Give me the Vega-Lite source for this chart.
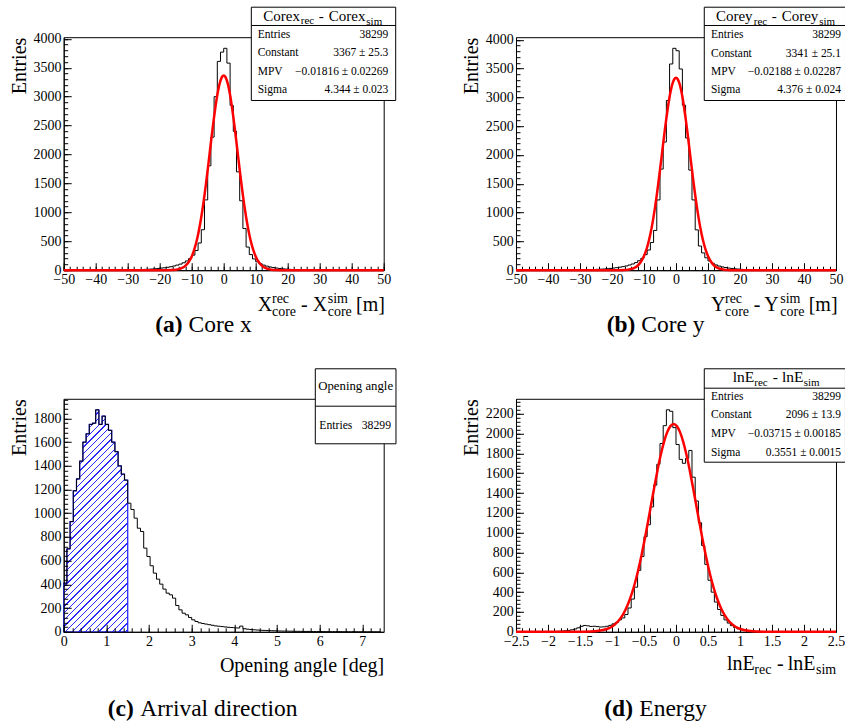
{
"$schema": "https://vega.github.io/schema/vega-lite/v6.json",
"autosize": {"type": "pad"},
"padding": {"left": 8.7, "top": 5.2, "right": 0, "bottom": 0},
"background": "white",
"columns": 2,
"bounds": "flush",
"spacing": {"row": 128.6, "column": 132.3},
"datasets": {
"ha": [{"lo":-50,"n":1},{"lo":-49,"n":0},{"lo":-48,"n":1},{"lo":-47,"n":0},{"lo":-46,"n":1},{"lo":-45,"n":1},{"lo":-44,"n":0},{"lo":-43,"n":1},{"lo":-42,"n":2},{"lo":-41,"n":1},{"lo":-40,"n":1},{"lo":-39,"n":2},{"lo":-38,"n":2},{"lo":-37,"n":3},{"lo":-36,"n":2},{"lo":-35,"n":3},{"lo":-34,"n":3},{"lo":-33,"n":4},{"lo":-32,"n":4},{"lo":-31,"n":5},{"lo":-30,"n":5},{"lo":-29,"n":6},{"lo":-28,"n":8},{"lo":-27,"n":9},{"lo":-26,"n":12},{"lo":-25,"n":14},{"lo":-24,"n":17},{"lo":-23,"n":20},{"lo":-22,"n":25},{"lo":-21,"n":30},{"lo":-20,"n":36},{"lo":-19,"n":42},{"lo":-18,"n":50},{"lo":-17,"n":60},{"lo":-16,"n":72},{"lo":-15,"n":88},{"lo":-14,"n":105},{"lo":-13,"n":128},{"lo":-12,"n":160},{"lo":-11,"n":200},{"lo":-10,"n":260},{"lo":-9,"n":340},{"lo":-8,"n":470},{"lo":-7,"n":700},{"lo":-6,"n":1215},{"lo":-5,"n":1805},{"lo":-4,"n":2300},{"lo":-3,"n":3000},{"lo":-2,"n":3610},{"lo":-1,"n":3770},{"lo":0,"n":3836},{"lo":1,"n":3580},{"lo":2,"n":2850},{"lo":3,"n":2400},{"lo":4,"n":1700},{"lo":5,"n":1200},{"lo":6,"n":720},{"lo":7,"n":400},{"lo":8,"n":270},{"lo":9,"n":195},{"lo":10,"n":145},{"lo":11,"n":112},{"lo":12,"n":88},{"lo":13,"n":70},{"lo":14,"n":56},{"lo":15,"n":45},{"lo":16,"n":37},{"lo":17,"n":30},{"lo":18,"n":24},{"lo":19,"n":19},{"lo":20,"n":15},{"lo":21,"n":12},{"lo":22,"n":10},{"lo":23,"n":8},{"lo":24,"n":7},{"lo":25,"n":6},{"lo":26,"n":5},{"lo":27,"n":4},{"lo":28,"n":4},{"lo":29,"n":3},{"lo":30,"n":3},{"lo":31,"n":2},{"lo":32,"n":2},{"lo":33,"n":2},{"lo":34,"n":1},{"lo":35,"n":2},{"lo":36,"n":1},{"lo":37,"n":1},{"lo":38,"n":1},{"lo":39,"n":0},{"lo":40,"n":1},{"lo":41,"n":1},{"lo":42,"n":0},{"lo":43,"n":1},{"lo":44,"n":0},{"lo":45,"n":0},{"lo":46,"n":1},{"lo":47,"n":0},{"lo":48,"n":0},{"lo":49,"n":0}],
"hb": [{"lo":-50,"n":0},{"lo":-49,"n":1},{"lo":-48,"n":0},{"lo":-47,"n":1},{"lo":-46,"n":1},{"lo":-45,"n":0},{"lo":-44,"n":1},{"lo":-43,"n":1},{"lo":-42,"n":2},{"lo":-41,"n":1},{"lo":-40,"n":2},{"lo":-39,"n":1},{"lo":-38,"n":2},{"lo":-37,"n":3},{"lo":-36,"n":2},{"lo":-35,"n":3},{"lo":-34,"n":4},{"lo":-33,"n":3},{"lo":-32,"n":4},{"lo":-31,"n":5},{"lo":-30,"n":6},{"lo":-29,"n":7},{"lo":-28,"n":8},{"lo":-27,"n":10},{"lo":-26,"n":12},{"lo":-25,"n":15},{"lo":-24,"n":18},{"lo":-23,"n":21},{"lo":-22,"n":26},{"lo":-21,"n":31},{"lo":-20,"n":37},{"lo":-19,"n":44},{"lo":-18,"n":52},{"lo":-17,"n":62},{"lo":-16,"n":74},{"lo":-15,"n":90},{"lo":-14,"n":108},{"lo":-13,"n":132},{"lo":-12,"n":165},{"lo":-11,"n":205},{"lo":-10,"n":270},{"lo":-9,"n":350},{"lo":-8,"n":480},{"lo":-7,"n":690},{"lo":-6,"n":1220},{"lo":-5,"n":1755},{"lo":-4,"n":2225},{"lo":-3,"n":2946},{"lo":-2,"n":3580},{"lo":-1,"n":3852},{"lo":0,"n":3810},{"lo":1,"n":3493},{"lo":2,"n":2865},{"lo":3,"n":2295},{"lo":4,"n":1738},{"lo":5,"n":1220},{"lo":6,"n":700},{"lo":7,"n":420},{"lo":8,"n":300},{"lo":9,"n":215},{"lo":10,"n":160},{"lo":11,"n":120},{"lo":12,"n":92},{"lo":13,"n":72},{"lo":14,"n":57},{"lo":15,"n":46},{"lo":16,"n":37},{"lo":17,"n":30},{"lo":18,"n":24},{"lo":19,"n":19},{"lo":20,"n":15},{"lo":21,"n":12},{"lo":22,"n":10},{"lo":23,"n":8},{"lo":24,"n":7},{"lo":25,"n":6},{"lo":26,"n":5},{"lo":27,"n":4},{"lo":28,"n":4},{"lo":29,"n":3},{"lo":30,"n":3},{"lo":31,"n":2},{"lo":32,"n":2},{"lo":33,"n":2},{"lo":34,"n":1},{"lo":35,"n":2},{"lo":36,"n":1},{"lo":37,"n":1},{"lo":38,"n":1},{"lo":39,"n":0},{"lo":40,"n":1},{"lo":41,"n":1},{"lo":42,"n":0},{"lo":43,"n":1},{"lo":44,"n":0},{"lo":45,"n":0},{"lo":46,"n":1},{"lo":47,"n":0},{"lo":48,"n":0},{"lo":49,"n":0}],
"hc": [{"lo":0,"n":410},{"lo":0.075,"n":700},{"lo":0.15,"n":930},{"lo":0.225,"n":1190},{"lo":0.3,"n":1290},{"lo":0.375,"n":1440},{"lo":0.45,"n":1600},{"lo":0.525,"n":1670},{"lo":0.6,"n":1750},{"lo":0.675,"n":1760},{"lo":0.75,"n":1873},{"lo":0.825,"n":1750},{"lo":0.9,"n":1820},{"lo":0.975,"n":1750},{"lo":1.05,"n":1700},{"lo":1.125,"n":1600},{"lo":1.2,"n":1520},{"lo":1.275,"n":1400},{"lo":1.35,"n":1330},{"lo":1.425,"n":1280},{"lo":1.5,"n":1085},{"lo":1.575,"n":1032},{"lo":1.65,"n":959},{"lo":1.725,"n":874},{"lo":1.8,"n":846},{"lo":1.875,"n":706},{"lo":1.95,"n":635},{"lo":2.025,"n":557},{"lo":2.1,"n":495},{"lo":2.175,"n":444},{"lo":2.25,"n":402},{"lo":2.325,"n":360},{"lo":2.4,"n":326},{"lo":2.475,"n":312},{"lo":2.55,"n":284},{"lo":2.625,"n":222},{"lo":2.7,"n":185},{"lo":2.775,"n":157},{"lo":2.85,"n":143},{"lo":2.925,"n":121},{"lo":3,"n":101},{"lo":3.075,"n":87},{"lo":3.15,"n":76},{"lo":3.225,"n":70},{"lo":3.3,"n":65},{"lo":3.375,"n":60},{"lo":3.45,"n":55},{"lo":3.525,"n":50},{"lo":3.6,"n":47},{"lo":3.675,"n":44},{"lo":3.75,"n":41},{"lo":3.825,"n":38},{"lo":3.9,"n":36},{"lo":3.975,"n":34},{"lo":4.05,"n":32},{"lo":4.125,"n":48},{"lo":4.2,"n":26},{"lo":4.275,"n":22},{"lo":4.35,"n":19},{"lo":4.425,"n":17},{"lo":4.5,"n":15},{"lo":4.575,"n":13},{"lo":4.65,"n":12},{"lo":4.725,"n":11},{"lo":4.8,"n":10},{"lo":4.875,"n":9},{"lo":4.95,"n":8},{"lo":5.025,"n":7},{"lo":5.1,"n":6},{"lo":5.175,"n":6},{"lo":5.25,"n":5},{"lo":5.325,"n":5},{"lo":5.4,"n":4},{"lo":5.475,"n":4},{"lo":5.55,"n":3},{"lo":5.625,"n":3},{"lo":5.7,"n":3},{"lo":5.775,"n":2},{"lo":5.85,"n":2},{"lo":5.925,"n":2},{"lo":6,"n":2},{"lo":6.075,"n":1},{"lo":6.15,"n":1},{"lo":6.225,"n":1},{"lo":6.3,"n":1},{"lo":6.375,"n":1},{"lo":6.45,"n":1},{"lo":6.525,"n":0},{"lo":6.6,"n":1},{"lo":6.675,"n":0},{"lo":6.75,"n":1},{"lo":6.825,"n":0},{"lo":6.9,"n":0},{"lo":6.975,"n":1},{"lo":7.05,"n":0},{"lo":7.125,"n":0},{"lo":7.2,"n":0},{"lo":7.275,"n":0},{"lo":7.35,"n":0},{"lo":7.425,"n":0}],
"hd": [{"lo":-2.5,"n":0},{"lo":-2.45,"n":0},{"lo":-2.4,"n":0},{"lo":-2.35,"n":0},{"lo":-2.3,"n":1},{"lo":-2.25,"n":0},{"lo":-2.2,"n":1},{"lo":-2.15,"n":1},{"lo":-2.1,"n":1},{"lo":-2.05,"n":2},{"lo":-2,"n":2},{"lo":-1.95,"n":3},{"lo":-1.9,"n":4},{"lo":-1.85,"n":5},{"lo":-1.8,"n":7},{"lo":-1.75,"n":10},{"lo":-1.7,"n":14},{"lo":-1.65,"n":20},{"lo":-1.6,"n":28},{"lo":-1.55,"n":40},{"lo":-1.5,"n":55},{"lo":-1.45,"n":64},{"lo":-1.4,"n":60},{"lo":-1.35,"n":54},{"lo":-1.3,"n":56},{"lo":-1.25,"n":52},{"lo":-1.2,"n":48},{"lo":-1.15,"n":50},{"lo":-1.1,"n":56},{"lo":-1.05,"n":65},{"lo":-1,"n":80},{"lo":-0.95,"n":95},{"lo":-0.9,"n":121},{"lo":-0.85,"n":140},{"lo":-0.8,"n":175},{"lo":-0.75,"n":240},{"lo":-0.7,"n":330},{"lo":-0.65,"n":450},{"lo":-0.6,"n":620},{"lo":-0.55,"n":760},{"lo":-0.5,"n":960},{"lo":-0.45,"n":1080},{"lo":-0.4,"n":1260},{"lo":-0.35,"n":1480},{"lo":-0.3,"n":1690},{"lo":-0.25,"n":1900},{"lo":-0.2,"n":2080},{"lo":-0.15,"n":2240},{"lo":-0.1,"n":2225},{"lo":-0.05,"n":2060},{"lo":0,"n":1890},{"lo":0.05,"n":1740},{"lo":0.1,"n":1700},{"lo":0.15,"n":1750},{"lo":0.2,"n":1830},{"lo":0.25,"n":1560},{"lo":0.3,"n":1320},{"lo":0.35,"n":1100},{"lo":0.4,"n":870},{"lo":0.45,"n":680},{"lo":0.5,"n":520},{"lo":0.55,"n":400},{"lo":0.6,"n":300},{"lo":0.65,"n":225},{"lo":0.7,"n":165},{"lo":0.75,"n":120},{"lo":0.8,"n":88},{"lo":0.85,"n":62},{"lo":0.9,"n":43},{"lo":0.95,"n":30},{"lo":1,"n":21},{"lo":1.05,"n":15},{"lo":1.1,"n":11},{"lo":1.15,"n":8},{"lo":1.2,"n":6},{"lo":1.25,"n":4},{"lo":1.3,"n":3},{"lo":1.35,"n":3},{"lo":1.4,"n":2},{"lo":1.45,"n":2},{"lo":1.5,"n":1},{"lo":1.55,"n":1},{"lo":1.6,"n":1},{"lo":1.65,"n":0},{"lo":1.7,"n":1},{"lo":1.75,"n":0},{"lo":1.8,"n":0},{"lo":1.85,"n":1},{"lo":1.9,"n":0},{"lo":1.95,"n":0},{"lo":2,"n":0},{"lo":2.05,"n":0},{"lo":2.1,"n":0},{"lo":2.15,"n":0},{"lo":2.2,"n":0},{"lo":2.25,"n":0},{"lo":2.3,"n":0},{"lo":2.35,"n":0},{"lo":2.4,"n":0},{"lo":2.45,"n":0}],
"fa": [{"x":-50,"y":0},{"x":-20,"y":0},{"x":-18,"y":0.6},{"x":-16,"y":3.8},{"x":-15,"y":8.7},{"x":-14,"y":18.7},{"x":-13,"y":38.2},{"x":-12,"y":74.2},{"x":-11,"y":136.4},{"x":-10,"y":238},{"x":-9.5,"y":308.2},{"x":-9,"y":393.8},{"x":-8.5,"y":496.5},{"x":-8,"y":617.7},{"x":-7.5,"y":758.5},{"x":-7,"y":919.2},{"x":-6.5,"y":1099.3},{"x":-6,"y":1297.2},{"x":-5.5,"y":1510.6},{"x":-5,"y":1736},{"x":-4.5,"y":1968.9},{"x":-4,"y":2203.6},{"x":-3.5,"y":2433.8},{"x":-3,"y":2652.7},{"x":-2.5,"y":2853.2},{"x":-2,"y":3028.4},{"x":-1.5,"y":3172.2},{"x":-1,"y":3279},{"x":-0.5,"y":3344.8},{"x":0,"y":3367},{"x":0.5,"y":3344.8},{"x":1,"y":3279},{"x":1.5,"y":3172.2},{"x":2,"y":3028.4},{"x":2.5,"y":2853.2},{"x":3,"y":2652.7},{"x":3.5,"y":2433.8},{"x":4,"y":2203.6},{"x":4.5,"y":1968.9},{"x":5,"y":1736},{"x":5.5,"y":1510.6},{"x":6,"y":1297.2},{"x":6.5,"y":1099.3},{"x":7,"y":919.2},{"x":7.5,"y":758.5},{"x":8,"y":617.7},{"x":8.5,"y":496.5},{"x":9,"y":393.8},{"x":9.5,"y":308.2},{"x":10,"y":238},{"x":11,"y":136.4},{"x":12,"y":74.2},{"x":13,"y":38.2},{"x":14,"y":18.7},{"x":15,"y":8.7},{"x":16,"y":3.8},{"x":18,"y":0.6},{"x":20,"y":0},{"x":50,"y":0}],
"fb": [{"x":-50,"y":0},{"x":-20,"y":0},{"x":-18,"y":0.7},{"x":-16,"y":4.2},{"x":-15,"y":9.4},{"x":-14,"y":20},{"x":-13,"y":40.5},{"x":-12,"y":77.8},{"x":-11,"y":141.8},{"x":-10,"y":245.4},{"x":-9.5,"y":316.6},{"x":-9,"y":403.1},{"x":-8.5,"y":506.5},{"x":-8,"y":628.2},{"x":-7.5,"y":769.2},{"x":-7,"y":929.5},{"x":-6.5,"y":1108.6},{"x":-6,"y":1305.1},{"x":-5.5,"y":1516.5},{"x":-5,"y":1739.3},{"x":-4.5,"y":1969},{"x":-4,"y":2200.1},{"x":-3.5,"y":2426.4},{"x":-3,"y":2641.3},{"x":-2.5,"y":2838},{"x":-2,"y":3009.7},{"x":-1.5,"y":3150.4},{"x":-1,"y":3254.9},{"x":-0.5,"y":3319.3},{"x":0,"y":3341},{"x":0.5,"y":3319.3},{"x":1,"y":3254.9},{"x":1.5,"y":3150.4},{"x":2,"y":3009.7},{"x":2.5,"y":2838},{"x":3,"y":2641.3},{"x":3.5,"y":2426.4},{"x":4,"y":2200.1},{"x":4.5,"y":1969},{"x":5,"y":1739.3},{"x":5.5,"y":1516.5},{"x":6,"y":1305.1},{"x":6.5,"y":1108.6},{"x":7,"y":929.5},{"x":7.5,"y":769.2},{"x":8,"y":628.2},{"x":8.5,"y":506.5},{"x":9,"y":403.1},{"x":9.5,"y":316.6},{"x":10,"y":245.4},{"x":11,"y":141.8},{"x":12,"y":77.8},{"x":13,"y":40.5},{"x":14,"y":20},{"x":15,"y":9.4},{"x":16,"y":4.2},{"x":18,"y":0.7},{"x":20,"y":0},{"x":50,"y":0}],
"fd": [{"x":-2.5,"y":0},{"x":-1.637,"y":0.1},{"x":-1.437,"y":0.9},{"x":-1.337,"y":2.6},{"x":-1.237,"y":6.9},{"x":-1.137,"y":17.3},{"x":-1.037,"y":39.7},{"x":-0.987,"y":58.5},{"x":-0.937,"y":84.5},{"x":-0.887,"y":119.5},{"x":-0.837,"y":165.7},{"x":-0.787,"y":225.3},{"x":-0.737,"y":300.3},{"x":-0.687,"y":392.4},{"x":-0.637,"y":502.8},{"x":-0.587,"y":631.6},{"x":-0.537,"y":777.8},{"x":-0.487,"y":939.1},{"x":-0.437,"y":1111.4},{"x":-0.387,"y":1289.6},{"x":-0.337,"y":1466.9},{"x":-0.287,"y":1635.9},{"x":-0.237,"y":1788.6},{"x":-0.187,"y":1917.1},{"x":-0.137,"y":2014.5},{"x":-0.087,"y":2075.3},{"x":-0.037,"y":2096},{"x":0.013,"y":2075.3},{"x":0.063,"y":2014.5},{"x":0.113,"y":1917.1},{"x":0.163,"y":1788.6},{"x":0.213,"y":1635.9},{"x":0.263,"y":1466.9},{"x":0.313,"y":1289.6},{"x":0.363,"y":1111.4},{"x":0.413,"y":939.1},{"x":0.463,"y":777.8},{"x":0.513,"y":631.6},{"x":0.563,"y":502.8},{"x":0.613,"y":392.4},{"x":0.663,"y":300.3},{"x":0.713,"y":225.3},{"x":0.763,"y":165.7},{"x":0.813,"y":119.5},{"x":0.863,"y":84.5},{"x":0.913,"y":58.5},{"x":0.963,"y":39.7},{"x":1.063,"y":17.3},{"x":1.163,"y":6.9},{"x":1.263,"y":2.6},{"x":1.363,"y":0.9},{"x":1.563,"y":0.1},{"x":2.5,"y":0}]
},
"concat": [
{
"width": 320, "height": 233,
"resolve": {"axis": {"x": "independent", "y": "independent"}},
"layer": [
{"data": {"name": "ha"}, "mark": {"type": "line", "interpolate": "step-after", "color": "black", "strokeWidth": 1},
 "encoding": {
  "x": {"field": "lo", "type": "quantitative", "scale": {"domain": [-50, 50], "nice": false, "zero": false},
   "axis": {"orient": "bottom", "title": null, "labelOverlap": false, "values": [-50,-40,-30,-20,-10,0,10,20,30,40,50], "format": "d", "tickSize": -7.5, "labelPadding": 10.2}},
  "y": {"field": "n", "type": "quantitative", "scale": {"domain": [0, 4028], "nice": false, "zero": false},
   "axis": {"orient": "left", "title": "Entries", "labelOverlap": false, "titleAnchor": "end", "titleAlign": "right", "titleAngle": -90, "titleBaseline": "alphabetic", "titleX": -38, "titleY": 0, "values": [0,500,1000,1500,2000,2500,3000,3500,4000], "format": "d", "tickSize": -7.5, "labelPadding": 10.2}}}},
{"data": {"name": "fa"}, "mark": {"type": "line", "color": "#ff0000", "strokeWidth": 2.5, "interpolate": "monotone"},
 "encoding": {"x": {"field": "x", "type": "quantitative", "axis": {"orient": "bottom", "title": null, "labels": false, "domain": false, "values": [-50,-48,-46,-44,-42,-40,-38,-36,-34,-32,-30,-28,-26,-24,-22,-20,-18,-16,-14,-12,-10,-8,-6,-4,-2,0,2,4,6,8,10,12,14,16,18,20,22,24,26,28,30,32,34,36,38,40,42,44,46,48,50], "tickSize": -4}},
  "y": {"field": "y", "type": "quantitative", "axis": {"orient": "left", "title": null, "labels": false, "domain": false, "values": [0,100,200,300,400,500,600,700,800,900,1000,1100,1200,1300,1400,1500,1600,1700,1800,1900,2000,2100,2200,2300,2400,2500,2600,2700,2800,2900,3000,3100,3200,3300,3400,3500,3600,3700,3800,3900,4000], "tickSize": -4}}}},
{"data": {"values": [{}]}, "mark": {"type": "rect", "fill": "white", "stroke": "black", "strokeWidth": 1},
 "encoding": {"x": {"datum": 8.63, "axis": null}, "x2": {"datum": 53.75}, "y": {"datum": 4546.7, "axis": null}, "y2": {"datum": 2933.8}}},
{"data": {"values": [{}]}, "mark": {"type": "rule", "color": "black", "strokeWidth": 1},
 "encoding": {"x": {"datum": 8.63, "axis": null}, "x2": {"datum": 53.75}, "y": {"datum": 4230.4, "axis": null}}},
{"data": {"values": [{}]}, "mark": {"type": "text", "text": ["Entries", "Constant", "MPV", "Sigma"], "fontSize": 11.5, "lineHeight": 18.3, "align": "left", "baseline": "alphabetic", "dx": 6.4, "dy": 31},
 "encoding": {"x": {"datum": 8.63, "axis": null}, "y": {"datum": 4546.7, "axis": null}}},
{"data": {"values": [{}]}, "mark": {"type": "text", "text": ["38299", "3367 ± 25.3", "−0.01816 ± 0.02269", "4.344 ± 0.023"], "fontSize": 11.5, "lineHeight": 18.3, "align": "right", "baseline": "alphabetic", "dx": -7.4, "dy": 31},
 "encoding": {"x": {"datum": 53.75, "axis": null}, "y": {"datum": 4546.7, "axis": null}}},
{"data": {"values": [{}]}, "mark": {"type": "text", "text": "Corex", "fontSize": 15, "align": "left", "baseline": "alphabetic", "dx": 12, "dy": 13.6},
 "encoding": {"x": {"datum": 8.63, "axis": null}, "y": {"datum": 4546.7, "axis": null}}},
{"data": {"values": [{}]}, "mark": {"type": "text", "text": "rec", "fontSize": 11, "align": "left", "baseline": "alphabetic", "dx": 49.5, "dy": 17},
 "encoding": {"x": {"datum": 8.63, "axis": null}, "y": {"datum": 4546.7, "axis": null}}},
{"data": {"values": [{}]}, "mark": {"type": "text", "text": "-", "fontSize": 15, "align": "left", "baseline": "alphabetic", "dx": 67.5, "dy": 13.6},
 "encoding": {"x": {"datum": 8.63, "axis": null}, "y": {"datum": 4546.7, "axis": null}}},
{"data": {"values": [{}]}, "mark": {"type": "text", "text": "Corex", "fontSize": 15, "align": "left", "baseline": "alphabetic", "dx": 77.5, "dy": 13.6},
 "encoding": {"x": {"datum": 8.63, "axis": null}, "y": {"datum": 4546.7, "axis": null}}},
{"data": {"values": [{}]}, "mark": {"type": "text", "text": "sim", "fontSize": 11, "align": "left", "baseline": "alphabetic", "dx": 115, "dy": 17.5},
 "encoding": {"x": {"datum": 8.63, "axis": null}, "y": {"datum": 4546.7, "axis": null}}},
{"data": {"values": [{}]}, "mark": {"type": "text", "text": "X", "fontSize": 20, "align": "left", "baseline": "alphabetic", "dx": -126, "dy": 41.3},
 "encoding": {"x": {"datum": 50, "axis": null}, "y": {"datum": 0, "axis": null}}},
{"data": {"values": [{}]}, "mark": {"type": "text", "text": "rec", "fontSize": 14, "align": "left", "baseline": "alphabetic", "dx": -111.7, "dy": 33},
 "encoding": {"x": {"datum": 50, "axis": null}, "y": {"datum": 0, "axis": null}}},
{"data": {"values": [{}]}, "mark": {"type": "text", "text": "core", "fontSize": 14, "align": "left", "baseline": "alphabetic", "dx": -111.7, "dy": 46},
 "encoding": {"x": {"datum": 50, "axis": null}, "y": {"datum": 0, "axis": null}}},
{"data": {"values": [{}]}, "mark": {"type": "text", "text": "-", "fontSize": 20, "align": "left", "baseline": "alphabetic", "dx": -82.7, "dy": 41.3},
 "encoding": {"x": {"datum": 50, "axis": null}, "y": {"datum": 0, "axis": null}}},
{"data": {"values": [{}]}, "mark": {"type": "text", "text": "X", "fontSize": 20, "align": "left", "baseline": "alphabetic", "dx": -71, "dy": 41.3},
 "encoding": {"x": {"datum": 50, "axis": null}, "y": {"datum": 0, "axis": null}}},
{"data": {"values": [{}]}, "mark": {"type": "text", "text": "sim", "fontSize": 14, "align": "left", "baseline": "alphabetic", "dx": -56, "dy": 33},
 "encoding": {"x": {"datum": 50, "axis": null}, "y": {"datum": 0, "axis": null}}},
{"data": {"values": [{}]}, "mark": {"type": "text", "text": "core", "fontSize": 14, "align": "left", "baseline": "alphabetic", "dx": -56, "dy": 46},
 "encoding": {"x": {"datum": 50, "axis": null}, "y": {"datum": 0, "axis": null}}},
{"data": {"values": [{}]}, "mark": {"type": "text", "text": "[m]", "fontSize": 20, "align": "left", "baseline": "alphabetic", "dx": -27.7, "dy": 41.3},
 "encoding": {"x": {"datum": 50, "axis": null}, "y": {"datum": 0, "axis": null}}},
{"data": {"values": [{}]}, "mark": {"type": "text", "text": "(a)", "fontSize": 23.5, "fontWeight": "bold", "align": "left", "baseline": "alphabetic", "dx": 91.5, "dy": 62},
 "encoding": {"x": {"datum": -50, "axis": null}, "y": {"datum": 0, "axis": null}}},
{"data": {"values": [{}]}, "mark": {"type": "text", "text": "Core x", "fontSize": 23.5, "align": "left", "baseline": "alphabetic", "dx": 124.8, "dy": 62},
 "encoding": {"x": {"datum": -50, "axis": null}, "y": {"datum": 0, "axis": null}}}
]
},
{
"width": 320, "height": 233,
"resolve": {"axis": {"x": "independent", "y": "independent"}},
"layer": [
{"data": {"name": "hb"}, "mark": {"type": "line", "interpolate": "step-after", "color": "black", "strokeWidth": 1},
 "encoding": {
  "x": {"field": "lo", "type": "quantitative", "scale": {"domain": [-50, 50], "nice": false, "zero": false},
   "axis": {"orient": "bottom", "title": null, "labelOverlap": false, "values": [-50,-40,-30,-20,-10,0,10,20,30,40,50], "format": "d", "tickSize": -7.5, "labelPadding": 10.2}},
  "y": {"field": "n", "type": "quantitative", "scale": {"domain": [0, 4045], "nice": false, "zero": false},
   "axis": {"orient": "left", "title": "Entries", "labelOverlap": false, "titleAnchor": "end", "titleAlign": "right", "titleAngle": -90, "titleBaseline": "alphabetic", "titleX": -38, "titleY": 0, "values": [0,500,1000,1500,2000,2500,3000,3500,4000], "format": "d", "tickSize": -7.5, "labelPadding": 10.2}}}},
{"data": {"name": "fb"}, "mark": {"type": "line", "color": "#ff0000", "strokeWidth": 2.5, "interpolate": "monotone"},
 "encoding": {"x": {"field": "x", "type": "quantitative", "axis": {"orient": "bottom", "title": null, "labels": false, "domain": false, "values": [-50,-48,-46,-44,-42,-40,-38,-36,-34,-32,-30,-28,-26,-24,-22,-20,-18,-16,-14,-12,-10,-8,-6,-4,-2,0,2,4,6,8,10,12,14,16,18,20,22,24,26,28,30,32,34,36,38,40,42,44,46,48,50], "tickSize": -4}},
  "y": {"field": "y", "type": "quantitative", "axis": {"orient": "left", "title": null, "labels": false, "domain": false, "values": [0,100,200,300,400,500,600,700,800,900,1000,1100,1200,1300,1400,1500,1600,1700,1800,1900,2000,2100,2200,2300,2400,2500,2600,2700,2800,2900,3000,3100,3200,3300,3400,3500,3600,3700,3800,3900,4000], "tickSize": -4}}}},
{"data": {"values": [{}]}, "mark": {"type": "rect", "fill": "white", "stroke": "black", "strokeWidth": 1},
 "encoding": {"x": {"datum": 8.84, "axis": null}, "x2": {"datum": 52.97}, "y": {"datum": 4565.7, "axis": null}, "y2": {"datum": 2946}}},
{"data": {"values": [{}]}, "mark": {"type": "rule", "color": "black", "strokeWidth": 1},
 "encoding": {"x": {"datum": 8.84, "axis": null}, "x2": {"datum": 52.97}, "y": {"datum": 4248, "axis": null}}},
{"data": {"values": [{}]}, "mark": {"type": "text", "text": ["Entries", "Constant", "MPV", "Sigma"], "fontSize": 11.5, "lineHeight": 18.3, "align": "left", "baseline": "alphabetic", "dx": 6.7, "dy": 31},
 "encoding": {"x": {"datum": 8.84, "axis": null}, "y": {"datum": 4565.7, "axis": null}}},
{"data": {"values": [{}]}, "mark": {"type": "text", "text": ["38299", "3341 ± 25.1", "−0.02188 ± 0.02287", "4.376 ± 0.024"], "fontSize": 11.5, "lineHeight": 18.3, "align": "right", "baseline": "alphabetic", "dx": -4.5, "dy": 31},
 "encoding": {"x": {"datum": 52.97, "axis": null}, "y": {"datum": 4565.7, "axis": null}}},
{"data": {"values": [{}]}, "mark": {"type": "text", "text": "Corey", "fontSize": 15, "align": "left", "baseline": "alphabetic", "dx": 11.7, "dy": 13.3},
 "encoding": {"x": {"datum": 8.84, "axis": null}, "y": {"datum": 4565.7, "axis": null}}},
{"data": {"values": [{}]}, "mark": {"type": "text", "text": "rec", "fontSize": 11, "align": "left", "baseline": "alphabetic", "dx": 49.5, "dy": 18},
 "encoding": {"x": {"datum": 8.84, "axis": null}, "y": {"datum": 4565.7, "axis": null}}},
{"data": {"values": [{}]}, "mark": {"type": "text", "text": "-", "fontSize": 15, "align": "left", "baseline": "alphabetic", "dx": 67.5, "dy": 13.3},
 "encoding": {"x": {"datum": 8.84, "axis": null}, "y": {"datum": 4565.7, "axis": null}}},
{"data": {"values": [{}]}, "mark": {"type": "text", "text": "Corey", "fontSize": 15, "align": "left", "baseline": "alphabetic", "dx": 77.4, "dy": 13.3},
 "encoding": {"x": {"datum": 8.84, "axis": null}, "y": {"datum": 4565.7, "axis": null}}},
{"data": {"values": [{}]}, "mark": {"type": "text", "text": "sim", "fontSize": 11, "align": "left", "baseline": "alphabetic", "dx": 115, "dy": 18},
 "encoding": {"x": {"datum": 8.84, "axis": null}, "y": {"datum": 4565.7, "axis": null}}},
{"data": {"values": [{}]}, "mark": {"type": "text", "text": "Y", "fontSize": 20, "align": "left", "baseline": "alphabetic", "dx": -125, "dy": 41.3},
 "encoding": {"x": {"datum": 50, "axis": null}, "y": {"datum": 0, "axis": null}}},
{"data": {"values": [{}]}, "mark": {"type": "text", "text": "rec", "fontSize": 14, "align": "left", "baseline": "alphabetic", "dx": -111, "dy": 33},
 "encoding": {"x": {"datum": 50, "axis": null}, "y": {"datum": 0, "axis": null}}},
{"data": {"values": [{}]}, "mark": {"type": "text", "text": "core", "fontSize": 14, "align": "left", "baseline": "alphabetic", "dx": -111, "dy": 46},
 "encoding": {"x": {"datum": 50, "axis": null}, "y": {"datum": 0, "axis": null}}},
{"data": {"values": [{}]}, "mark": {"type": "text", "text": "-", "fontSize": 20, "align": "left", "baseline": "alphabetic", "dx": -82.3, "dy": 41.3},
 "encoding": {"x": {"datum": 50, "axis": null}, "y": {"datum": 0, "axis": null}}},
{"data": {"values": [{}]}, "mark": {"type": "text", "text": "Y", "fontSize": 20, "align": "left", "baseline": "alphabetic", "dx": -71.7, "dy": 41.3},
 "encoding": {"x": {"datum": 50, "axis": null}, "y": {"datum": 0, "axis": null}}},
{"data": {"values": [{}]}, "mark": {"type": "text", "text": "sim", "fontSize": 14, "align": "left", "baseline": "alphabetic", "dx": -55.7, "dy": 33},
 "encoding": {"x": {"datum": 50, "axis": null}, "y": {"datum": 0, "axis": null}}},
{"data": {"values": [{}]}, "mark": {"type": "text", "text": "core", "fontSize": 14, "align": "left", "baseline": "alphabetic", "dx": -55.7, "dy": 46},
 "encoding": {"x": {"datum": 50, "axis": null}, "y": {"datum": 0, "axis": null}}},
{"data": {"values": [{}]}, "mark": {"type": "text", "text": "[m]", "fontSize": 20, "align": "left", "baseline": "alphabetic", "dx": -27.3, "dy": 41.3},
 "encoding": {"x": {"datum": 50, "axis": null}, "y": {"datum": 0, "axis": null}}},
{"data": {"values": [{}]}, "mark": {"type": "text", "text": "(b)", "fontSize": 23.5, "fontWeight": "bold", "align": "left", "baseline": "alphabetic", "dx": 90.7, "dy": 62},
 "encoding": {"x": {"datum": -50, "axis": null}, "y": {"datum": 0, "axis": null}}},
{"data": {"values": [{}]}, "mark": {"type": "text", "text": "Core y", "fontSize": 23.5, "align": "left", "baseline": "alphabetic", "dx": 125.3, "dy": 62},
 "encoding": {"x": {"datum": -50, "axis": null}, "y": {"datum": 0, "axis": null}}}
]
},
{
"width": 320, "height": 233,
"resolve": {"axis": {"x": "independent", "y": "independent"}},
"layer": [
{"data": {"name": "hc"}, "transform": [{"filter": "datum.lo <= 1.5"}],
 "mark": {"type": "area", "interpolate": "step-after", "stroke": "#2a2aff", "strokeWidth": 1.3,
  "fill": {"gradient": "linear", "x1": 0, "y1": 0, "x2": 0.3429, "y2": 1.1895, "stops": [
{"offset":0.01,"color":"white"},{"offset":0.01,"color":"#2a2aff"},{"offset":0.015,"color":"#2a2aff"},{"offset":0.015,"color":"white"},
{"offset":0.03332,"color":"white"},{"offset":0.03332,"color":"#2a2aff"},{"offset":0.03832,"color":"#2a2aff"},{"offset":0.03832,"color":"white"},
{"offset":0.05664,"color":"white"},{"offset":0.05664,"color":"#2a2aff"},{"offset":0.06164,"color":"#2a2aff"},{"offset":0.06164,"color":"white"},
{"offset":0.07996,"color":"white"},{"offset":0.07996,"color":"#2a2aff"},{"offset":0.08496,"color":"#2a2aff"},{"offset":0.08496,"color":"white"},
{"offset":0.10328,"color":"white"},{"offset":0.10328,"color":"#2a2aff"},{"offset":0.10828,"color":"#2a2aff"},{"offset":0.10828,"color":"white"},
{"offset":0.1266,"color":"white"},{"offset":0.1266,"color":"#2a2aff"},{"offset":0.1316,"color":"#2a2aff"},{"offset":0.1316,"color":"white"},
{"offset":0.14992,"color":"white"},{"offset":0.14992,"color":"#2a2aff"},{"offset":0.15492,"color":"#2a2aff"},{"offset":0.15492,"color":"white"},
{"offset":0.17324,"color":"white"},{"offset":0.17324,"color":"#2a2aff"},{"offset":0.17824,"color":"#2a2aff"},{"offset":0.17824,"color":"white"},
{"offset":0.19656,"color":"white"},{"offset":0.19656,"color":"#2a2aff"},{"offset":0.20156,"color":"#2a2aff"},{"offset":0.20156,"color":"white"},
{"offset":0.21988,"color":"white"},{"offset":0.21988,"color":"#2a2aff"},{"offset":0.22488,"color":"#2a2aff"},{"offset":0.22488,"color":"white"},
{"offset":0.2432,"color":"white"},{"offset":0.2432,"color":"#2a2aff"},{"offset":0.2482,"color":"#2a2aff"},{"offset":0.2482,"color":"white"},
{"offset":0.26652,"color":"white"},{"offset":0.26652,"color":"#2a2aff"},{"offset":0.27152,"color":"#2a2aff"},{"offset":0.27152,"color":"white"},
{"offset":0.28984,"color":"white"},{"offset":0.28984,"color":"#2a2aff"},{"offset":0.29484,"color":"#2a2aff"},{"offset":0.29484,"color":"white"},
{"offset":0.31316,"color":"white"},{"offset":0.31316,"color":"#2a2aff"},{"offset":0.31816,"color":"#2a2aff"},{"offset":0.31816,"color":"white"},
{"offset":0.33648,"color":"white"},{"offset":0.33648,"color":"#2a2aff"},{"offset":0.34148,"color":"#2a2aff"},{"offset":0.34148,"color":"white"},
{"offset":0.3598,"color":"white"},{"offset":0.3598,"color":"#2a2aff"},{"offset":0.3648,"color":"#2a2aff"},{"offset":0.3648,"color":"white"},
{"offset":0.38312,"color":"white"},{"offset":0.38312,"color":"#2a2aff"},{"offset":0.38812,"color":"#2a2aff"},{"offset":0.38812,"color":"white"},
{"offset":0.40644,"color":"white"},{"offset":0.40644,"color":"#2a2aff"},{"offset":0.41144,"color":"#2a2aff"},{"offset":0.41144,"color":"white"},
{"offset":0.42976,"color":"white"},{"offset":0.42976,"color":"#2a2aff"},{"offset":0.43476,"color":"#2a2aff"},{"offset":0.43476,"color":"white"},
{"offset":0.45308,"color":"white"},{"offset":0.45308,"color":"#2a2aff"},{"offset":0.45808,"color":"#2a2aff"},{"offset":0.45808,"color":"white"},
{"offset":0.4764,"color":"white"},{"offset":0.4764,"color":"#2a2aff"},{"offset":0.4814,"color":"#2a2aff"},{"offset":0.4814,"color":"white"},
{"offset":0.49972,"color":"white"},{"offset":0.49972,"color":"#2a2aff"},{"offset":0.50472,"color":"#2a2aff"},{"offset":0.50472,"color":"white"},
{"offset":0.52304,"color":"white"},{"offset":0.52304,"color":"#2a2aff"},{"offset":0.52804,"color":"#2a2aff"},{"offset":0.52804,"color":"white"},
{"offset":0.54636,"color":"white"},{"offset":0.54636,"color":"#2a2aff"},{"offset":0.55136,"color":"#2a2aff"},{"offset":0.55136,"color":"white"},
{"offset":0.56968,"color":"white"},{"offset":0.56968,"color":"#2a2aff"},{"offset":0.57468,"color":"#2a2aff"},{"offset":0.57468,"color":"white"},
{"offset":0.593,"color":"white"},{"offset":0.593,"color":"#2a2aff"},{"offset":0.598,"color":"#2a2aff"},{"offset":0.598,"color":"white"},
{"offset":0.61632,"color":"white"},{"offset":0.61632,"color":"#2a2aff"},{"offset":0.62132,"color":"#2a2aff"},{"offset":0.62132,"color":"white"},
{"offset":0.63964,"color":"white"},{"offset":0.63964,"color":"#2a2aff"},{"offset":0.64464,"color":"#2a2aff"},{"offset":0.64464,"color":"white"},
{"offset":0.66296,"color":"white"},{"offset":0.66296,"color":"#2a2aff"},{"offset":0.66796,"color":"#2a2aff"},{"offset":0.66796,"color":"white"},
{"offset":0.68628,"color":"white"},{"offset":0.68628,"color":"#2a2aff"},{"offset":0.69128,"color":"#2a2aff"},{"offset":0.69128,"color":"white"},
{"offset":0.7096,"color":"white"},{"offset":0.7096,"color":"#2a2aff"},{"offset":0.7146,"color":"#2a2aff"},{"offset":0.7146,"color":"white"},
{"offset":0.73292,"color":"white"},{"offset":0.73292,"color":"#2a2aff"},{"offset":0.73792,"color":"#2a2aff"},{"offset":0.73792,"color":"white"},
{"offset":0.75624,"color":"white"},{"offset":0.75624,"color":"#2a2aff"},{"offset":0.76124,"color":"#2a2aff"},{"offset":0.76124,"color":"white"},
{"offset":0.77956,"color":"white"},{"offset":0.77956,"color":"#2a2aff"},{"offset":0.78456,"color":"#2a2aff"},{"offset":0.78456,"color":"white"},
{"offset":0.80288,"color":"white"},{"offset":0.80288,"color":"#2a2aff"},{"offset":0.80788,"color":"#2a2aff"},{"offset":0.80788,"color":"white"},
{"offset":0.8262,"color":"white"},{"offset":0.8262,"color":"#2a2aff"},{"offset":0.8312,"color":"#2a2aff"},{"offset":0.8312,"color":"white"},
{"offset":0.84952,"color":"white"},{"offset":0.84952,"color":"#2a2aff"},{"offset":0.85452,"color":"#2a2aff"},{"offset":0.85452,"color":"white"},
{"offset":0.87284,"color":"white"},{"offset":0.87284,"color":"#2a2aff"},{"offset":0.87784,"color":"#2a2aff"},{"offset":0.87784,"color":"white"},
{"offset":0.89616,"color":"white"},{"offset":0.89616,"color":"#2a2aff"},{"offset":0.90116,"color":"#2a2aff"},{"offset":0.90116,"color":"white"},
{"offset":0.91948,"color":"white"},{"offset":0.91948,"color":"#2a2aff"},{"offset":0.92448,"color":"#2a2aff"},{"offset":0.92448,"color":"white"},
{"offset":0.9428,"color":"white"},{"offset":0.9428,"color":"#2a2aff"},{"offset":0.9478,"color":"#2a2aff"},{"offset":0.9478,"color":"white"},
{"offset":0.96612,"color":"white"},{"offset":0.96612,"color":"#2a2aff"},{"offset":0.97112,"color":"#2a2aff"},{"offset":0.97112,"color":"white"},
{"offset":0.98944,"color":"white"},{"offset":0.98944,"color":"#2a2aff"},{"offset":0.99444,"color":"#2a2aff"},{"offset":0.99444,"color":"white"}
  ]}},
 "encoding": {"x": {"field": "lo", "type": "quantitative", "axis": {"orient": "bottom", "title": null, "labels": false, "domain": false, "values": [0,0.2,0.4,0.6,0.8,1,1.2,1.4,1.6,1.8,2,2.2,2.4,2.6,2.8,3,3.2,3.4,3.6,3.8,4,4.2,4.4,4.6,4.8,5,5.2,5.4,5.6,5.8,6,6.2,6.4,6.6,6.8,7,7.2,7.4], "tickSize": -4, "zindex": 1}},
  "y": {"field": "n", "type": "quantitative", "stack": null, "axis": {"orient": "left", "title": null, "labels": false, "domain": false, "values": [0,40,80,120,160,200,240,280,320,360,400,440,480,520,560,600,640,680,720,760,800,840,880,920,960,1000,1040,1080,1120,1160,1200,1240,1280,1320,1360,1400,1440,1480,1520,1560,1600,1640,1680,1720,1760,1800,1840,1880,1920,1960], "tickSize": -4, "zindex": 1}}}},
{"data": {"name": "hc"}, "mark": {"type": "line", "interpolate": "step-after", "color": "black", "strokeWidth": 1},
 "encoding": {
  "x": {"field": "lo", "type": "quantitative", "scale": {"domain": [0, 7.5], "nice": false, "zero": false},
   "axis": {"orient": "bottom", "title": "Opening angle [deg]", "labelOverlap": false, "titleAnchor": "end", "titleAlign": "right", "titleBaseline": "alphabetic", "titleX": 320, "titleY": 39.7, "values": [0,1,2,3,4,5,6,7], "format": "d", "tickSize": -7.5, "labelPadding": 10.2, "zindex": 1}},
  "y": {"field": "n", "type": "quantitative", "scale": {"domain": [0, 1966], "nice": false, "zero": false},
   "axis": {"orient": "left", "title": "Entries", "labelOverlap": false, "titleAnchor": "end", "titleAlign": "right", "titleAngle": -90, "titleBaseline": "alphabetic", "titleX": -38, "titleY": 0, "values": [0,200,400,600,800,1000,1200,1400,1600,1800], "format": "d", "tickSize": -7.5, "labelPadding": 10.2, "zindex": 1}}}},
{"data": {"values": [{}]}, "mark": {"type": "rect", "fill": "white", "stroke": "black", "strokeWidth": 1},
 "encoding": {"x": {"datum": 5.897, "axis": null}, "x2": {"datum": 7.788}, "y": {"datum": 2219.2, "axis": null}, "y2": {"datum": 1586.3}}},
{"data": {"values": [{}]}, "mark": {"type": "rule", "color": "black", "strokeWidth": 1},
 "encoding": {"x": {"datum": 5.897, "axis": null}, "x2": {"datum": 7.788}, "y": {"datum": 1903.6, "axis": null}}},
{"data": {"values": [{}]}, "mark": {"type": "text", "text": "Opening angle", "fontSize": 12.8, "align": "center", "baseline": "alphabetic", "dy": 21},
 "encoding": {"x": {"datum": 6.8425, "axis": null}, "y": {"datum": 2219.2, "axis": null}}},
{"data": {"values": [{}]}, "mark": {"type": "text", "text": "Entries", "fontSize": 11.7, "align": "left", "baseline": "alphabetic", "dx": 4, "dy": 60},
 "encoding": {"x": {"datum": 5.897, "axis": null}, "y": {"datum": 2219.2, "axis": null}}},
{"data": {"values": [{}]}, "mark": {"type": "text", "text": "38299", "fontSize": 11.7, "align": "right", "baseline": "alphabetic", "dx": -5, "dy": 60},
 "encoding": {"x": {"datum": 7.788, "axis": null}, "y": {"datum": 2219.2, "axis": null}}},
{"data": {"values": [{}]}, "mark": {"type": "text", "text": "(c)", "fontSize": 23.5, "fontWeight": "bold", "align": "left", "baseline": "alphabetic", "dx": 44, "dy": 84},
 "encoding": {"x": {"datum": 0, "axis": null}, "y": {"datum": 0, "axis": null}}},
{"data": {"values": [{}]}, "mark": {"type": "text", "text": "Arrival direction", "fontSize": 23.5, "align": "left", "baseline": "alphabetic", "dx": 76.6, "dy": 84},
 "encoding": {"x": {"datum": 0, "axis": null}, "y": {"datum": 0, "axis": null}}}
]
},
{
"width": 320, "height": 233,
"resolve": {"axis": {"x": "independent", "y": "independent"}},
"layer": [
{"data": {"name": "hd"}, "mark": {"type": "line", "interpolate": "step-after", "color": "black", "strokeWidth": 1},
 "encoding": {
  "x": {"field": "lo", "type": "quantitative", "scale": {"domain": [-2.5, 2.5], "nice": false, "zero": false},
   "axis": {"orient": "bottom", "title": null, "labelOverlap": false, "values": [-2.5,-2,-1.5,-1,-0.5,0,0.5,1,1.5,2,2.5], "format": "~g", "tickSize": -7.5, "labelPadding": 10.2}},
  "y": {"field": "n", "type": "quantitative", "scale": {"domain": [0, 2351], "nice": false, "zero": false},
   "axis": {"orient": "left", "title": "Entries", "labelOverlap": false, "titleAnchor": "end", "titleAlign": "right", "titleAngle": -90, "titleBaseline": "alphabetic", "titleX": -38, "titleY": 0, "values": [0,200,400,600,800,1000,1200,1400,1600,1800,2000,2200], "format": "d", "tickSize": -7.5, "labelPadding": 10.2}}}},
{"data": {"name": "fd"}, "mark": {"type": "line", "color": "#ff0000", "strokeWidth": 2.5, "interpolate": "monotone"},
 "encoding": {"x": {"field": "x", "type": "quantitative", "axis": {"orient": "bottom", "title": null, "labels": false, "domain": false, "values": [-2.5,-2.4,-2.3,-2.2,-2.1,-2,-1.9,-1.8,-1.7,-1.6,-1.5,-1.4,-1.3,-1.2,-1.1,-1,-0.9,-0.8,-0.7,-0.6,-0.5,-0.4,-0.3,-0.2,-0.1,0,0.1,0.2,0.3,0.4,0.5,0.6,0.7,0.8,0.9,1,1.1,1.2,1.3,1.4,1.5,1.6,1.7,1.8,1.9,2,2.1,2.2,2.3,2.4,2.5], "tickSize": -4}},
  "y": {"field": "y", "type": "quantitative", "axis": {"orient": "left", "title": null, "labels": false, "domain": false, "values": [0,40,80,120,160,200,240,280,320,360,400,440,480,520,560,600,640,680,720,760,800,840,880,920,960,1000,1040,1080,1120,1160,1200,1240,1280,1320,1360,1400,1440,1480,1520,1560,1600,1640,1680,1720,1760,1800,1840,1880,1920,1960,2000,2040,2080,2120,2160,2200,2240,2280,2320], "tickSize": -4}}}},
{"data": {"values": [{}]}, "mark": {"type": "rect", "fill": "white", "stroke": "black", "strokeWidth": 1},
 "encoding": {"x": {"datum": 0.442, "axis": null}, "x2": {"datum": 2.648}, "y": {"datum": 2653.7, "axis": null}, "y2": {"datum": 1711.3}}},
{"data": {"values": [{}]}, "mark": {"type": "rule", "color": "black", "strokeWidth": 1},
 "encoding": {"x": {"datum": 0.442, "axis": null}, "x2": {"datum": 2.648}, "y": {"datum": 2457.9, "axis": null}}},
{"data": {"values": [{}]}, "mark": {"type": "text", "text": ["Entries", "Constant", "MPV", "Sigma"], "fontSize": 11.5, "lineHeight": 18.6, "align": "left", "baseline": "alphabetic", "dx": 6.7, "dy": 31},
 "encoding": {"x": {"datum": 0.442, "axis": null}, "y": {"datum": 2653.7, "axis": null}}},
{"data": {"values": [{}]}, "mark": {"type": "text", "text": ["38299", "2096 ± 13.9", "−0.03715 ± 0.00185", "0.3551 ± 0.0015"], "fontSize": 11.5, "lineHeight": 18.6, "align": "right", "baseline": "alphabetic", "dx": -4.5, "dy": 31},
 "encoding": {"x": {"datum": 2.648, "axis": null}, "y": {"datum": 2653.7, "axis": null}}},
{"data": {"values": [{}]}, "mark": {"type": "text", "text": "lnE", "fontSize": 15.5, "align": "left", "baseline": "alphabetic", "dx": 28.4, "dy": 13.7},
 "encoding": {"x": {"datum": 0.442, "axis": null}, "y": {"datum": 2653.7, "axis": null}}},
{"data": {"values": [{}]}, "mark": {"type": "text", "text": "rec", "fontSize": 11, "align": "left", "baseline": "alphabetic", "dx": 50, "dy": 17},
 "encoding": {"x": {"datum": 0.442, "axis": null}, "y": {"datum": 2653.7, "axis": null}}},
{"data": {"values": [{}]}, "mark": {"type": "text", "text": "-", "fontSize": 15.5, "align": "left", "baseline": "alphabetic", "dx": 68.4, "dy": 13.7},
 "encoding": {"x": {"datum": 0.442, "axis": null}, "y": {"datum": 2653.7, "axis": null}}},
{"data": {"values": [{}]}, "mark": {"type": "text", "text": "lnE", "fontSize": 15.5, "align": "left", "baseline": "alphabetic", "dx": 77.7, "dy": 13.7},
 "encoding": {"x": {"datum": 0.442, "axis": null}, "y": {"datum": 2653.7, "axis": null}}},
{"data": {"values": [{}]}, "mark": {"type": "text", "text": "sim", "fontSize": 11, "align": "left", "baseline": "alphabetic", "dx": 99.4, "dy": 17.5},
 "encoding": {"x": {"datum": 0.442, "axis": null}, "y": {"datum": 2653.7, "axis": null}}},
{"data": {"values": [{}]}, "mark": {"type": "text", "text": "lnE", "fontSize": 20, "align": "left", "baseline": "alphabetic", "dx": -109, "dy": 38},
 "encoding": {"x": {"datum": 2.5, "axis": null}, "y": {"datum": 0, "axis": null}}},
{"data": {"values": [{}]}, "mark": {"type": "text", "text": "rec", "fontSize": 14, "align": "left", "baseline": "alphabetic", "dx": -81.7, "dy": 42},
 "encoding": {"x": {"datum": 2.5, "axis": null}, "y": {"datum": 0, "axis": null}}},
{"data": {"values": [{}]}, "mark": {"type": "text", "text": "-", "fontSize": 20, "align": "left", "baseline": "alphabetic", "dx": -59, "dy": 38},
 "encoding": {"x": {"datum": 2.5, "axis": null}, "y": {"datum": 0, "axis": null}}},
{"data": {"values": [{}]}, "mark": {"type": "text", "text": "lnE", "fontSize": 20, "align": "left", "baseline": "alphabetic", "dx": -48.3, "dy": 38},
 "encoding": {"x": {"datum": 2.5, "axis": null}, "y": {"datum": 0, "axis": null}}},
{"data": {"values": [{}]}, "mark": {"type": "text", "text": "sim", "fontSize": 14, "align": "left", "baseline": "alphabetic", "dx": -20, "dy": 42},
 "encoding": {"x": {"datum": 2.5, "axis": null}, "y": {"datum": 0, "axis": null}}},
{"data": {"values": [{}]}, "mark": {"type": "text", "text": "(d)", "fontSize": 23.5, "fontWeight": "bold", "align": "left", "baseline": "alphabetic", "dx": 88.3, "dy": 84},
 "encoding": {"x": {"datum": -2.5, "axis": null}, "y": {"datum": 0, "axis": null}}},
{"data": {"values": [{}]}, "mark": {"type": "text", "text": "Energy", "fontSize": 23.5, "align": "left", "baseline": "alphabetic", "dx": 123.3, "dy": 84},
 "encoding": {"x": {"datum": -2.5, "axis": null}, "y": {"datum": 0, "axis": null}}}
]
}
],
"config": {
 "font": "Liberation Serif",
 "view": {"stroke": "black", "strokeWidth": 1},
 "axis": {"labelFont": "Liberation Serif", "labelFontSize": 14, "labelColor": "black", "titleFont": "Liberation Serif", "titleFontSize": 20, "titleFontWeight": "normal", "titleColor": "black", "domainColor": "black", "tickColor": "black", "tickWidth": 1, "domainWidth": 1, "grid": false, "labelFlush": false, "labelOverlap": false},
 "text": {"font": "Liberation Serif", "color": "black"}
}
}
